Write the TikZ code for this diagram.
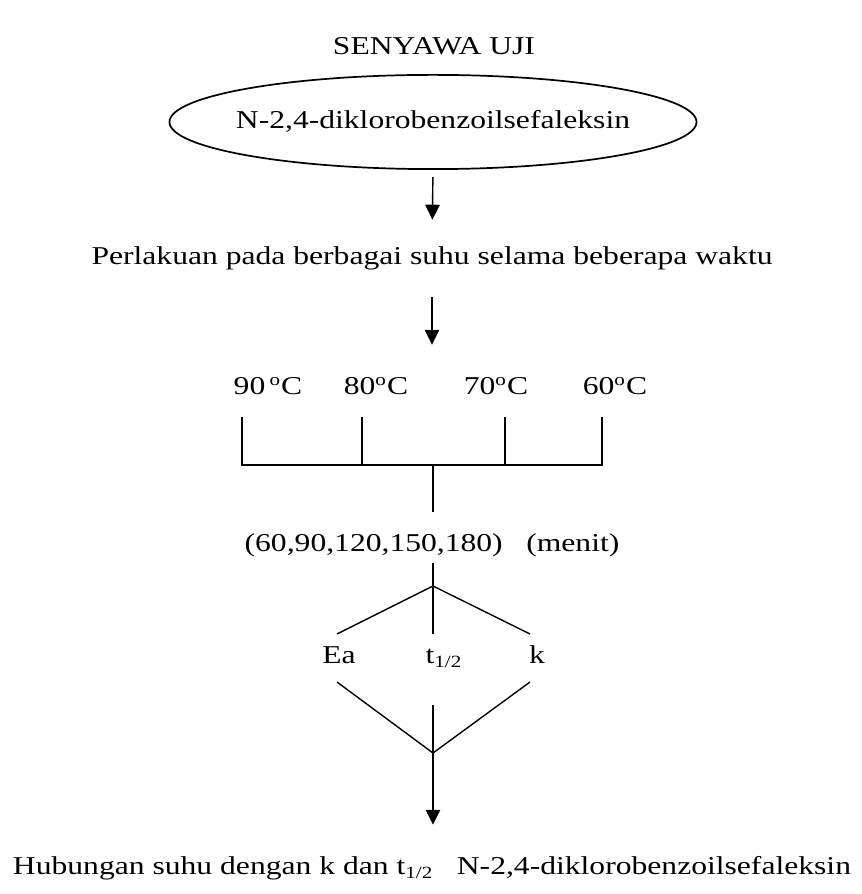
\documentclass[tikz,border=0pt]{standalone}
\usepackage{fontspec}
\setmainfont{Liberation Serif}[FakeStretch=1.23]
\usepackage{tikz}
\usetikzlibrary{arrows.meta,shapes.geometric,positioning}
\tikzset{
  txt/.style={font=\fontsize{12}{14}\selectfont,inner sep=0pt,text height=9pt,text depth=3pt},
  cmpd/.style={txt,ellipse,draw,line width=.8pt,inner xsep=-5pt,minimum height=44pt},
  ln/.style={line width=.65pt},
  arr/.style={ln,-{Triangle[length=7pt,width=6.8pt]}},
}
\begin{document}
\begin{tikzpicture}[x=0.467pt,y=-0.467pt]
  \useasboundingbox (0,0) rectangle (861,894);
  % title and test compound
  \node[txt] (title) at (434,48) {SENYAWA UJI};
  \node[cmpd] (senyawa) at (433,122) {N-2,4-diklorobenzoilsefaleksin};
  \node[txt] (treat) at (432,258) {Perlakuan pada berbagai suhu selama beberapa waktu};
  \draw[arr,shorten <=3.3pt,shorten >=11.7pt] (senyawa.south) -- (treat.north);
  % temperatures
  \node[txt] (t90) at (268,388) {90\,\textsuperscript{o}C};
  \node[txt] (t80) at (376,388) {80\textsuperscript{o}C};
  \node[txt] (t70) at (496,388) {70\textsuperscript{o}C};
  \node[txt] (t60) at (615,388) {60\textsuperscript{o}C};
  \draw[arr,shorten <=12pt,shorten >=14pt] (treat.south) -- (treat.south |- t80.north);
  % bracket under the temperatures
  \coordinate (b90) at (242,417);
  \coordinate (b80) at (362,417);
  \coordinate (b70) at (505,417);
  \coordinate (b60) at (602,417);
  \coordinate (join) at (433,465);
  \draw[ln] (b90) |- (b60 |- join) -- (b60);
  \draw[ln] (b80) -- (b80 |- join);
  \draw[ln] (b70) -- (b70 |- join);
  % times
  \node[txt] (waktu) at (432,545) {(60,90,120,150,180)\hspace{11pt}(menit)};
  \draw[ln,shorten >=9pt] (join) -- (join |- waktu.north);
  % parameters
  \coordinate (fork) at (433,586);
  \node[txt] (ea) at (339,657) {Ea};
  \node[txt] (th) at (444,657) {t\textsubscript{1/2}};
  \node[txt] (k) at (537,657) {k};
  \draw[ln,shorten <=2pt] (fork |- waktu.south) -- (fork);
  \draw[ln] (fork) -- (337,634);
  \draw[ln] (fork) -- (530,634);
  \draw[ln,shorten >=4.5pt] (fork) -- (fork |- th.north);
  % result
  \coordinate (meet) at (433,753);
  \node[txt] (hasil) at (432,868) {Hubungan suhu dengan k dan t\textsubscript{1/2}\hspace{11pt}N-2,4-diklorobenzoilsefaleksin};
  \draw[ln] (337,682) -- (meet) -- (530,682);
  \draw[ln,shorten <=16pt] (meet |- th.south) -- (meet);
  \draw[arr,shorten >=14pt] (meet) -- (meet |- hasil.north);
\end{tikzpicture}
\end{document}
